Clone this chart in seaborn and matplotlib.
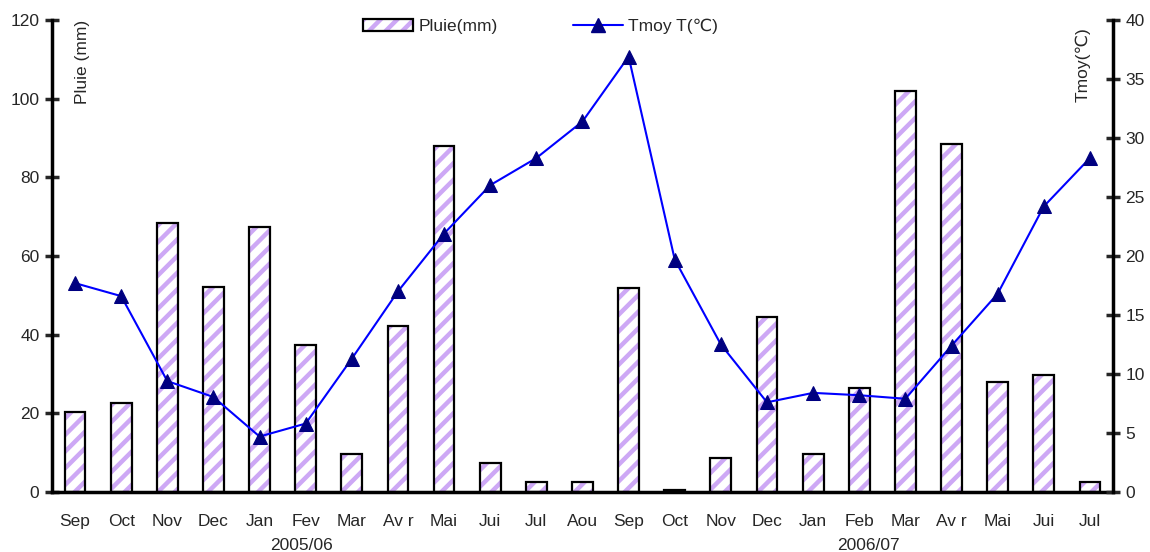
import numpy as np
import pandas as pd
import matplotlib
matplotlib.use("Agg")
import matplotlib.pyplot as plt
import seaborn as sns
from matplotlib.lines import Line2D
from matplotlib.patches import Patch

months = ["Sep", "Oct", "Nov", "Dec", "Jan", "Fev", "Mar", "Av r", "Mai", "Jui", "Jul", "Aou",
          "Sep", "Oct", "Nov", "Dec", "Jan", "Feb", "Mar", "Av r", "Mai", "Jui", "Jul"]
pluie = [20.3, 22.6, 68.4, 52.1, 67.4, 37.4, 9.7, 42.2, 88.0, 7.4, 2.5, 2.5,
         51.9, 0.5, 8.6, 44.5, 9.7, 26.4, 102.0, 88.5, 28.0, 29.7, 2.5]
tmoy = [17.7, 16.6, 9.4, 8.05, 4.7, 5.8, 11.3, 17.0, 21.9, 26.0, 28.3, 31.4,
        36.9, 19.7, 12.5, 7.6, 8.4, 8.2, 7.9, 12.4, 16.8, 24.2, 28.3]
seasons = ["2005/06", "2006/07"]
season_pos = [4.9, 17.2]

df = pd.DataFrame({"idx": np.arange(len(months)), "pluie": pluie, "tmoy": tmoy})

sns.set_style("white")
plt.rcParams["font.family"] = ["Liberation Sans", "DejaVu Sans"]
plt.rcParams["hatch.linewidth"] = 3.2

hatch_col = "#CDA8F5"
fs = 12.5

fig = plt.figure(figsize=(11.5, 5.52), dpi=100)
ax = fig.add_axes([0.0452, 0.1087, 0.9226, 0.8551])

sns.barplot(data=df, x="idx", y="pluie", color="white", width=0.45, ax=ax,
            native_scale=True, saturation=1)
for p in ax.patches:
    p.set_hatch("//")
    p.set_edgecolor(hatch_col)
    p.set_linewidth(0)
# black outlines on top
ax.bar(df["idx"], df["pluie"], width=0.45, fill=False, edgecolor="black", linewidth=1.6, zorder=3)

ax.set_xlim(-0.5, len(months) - 0.5)
ax.set_ylim(0, 120)
ax.set_yticks(np.arange(0, 121, 20))
ax.set_xticks(np.arange(len(months)))
ax.set_xticklabels(months, fontsize=fs)
ax.set_xticks(np.arange(-0.5, len(months), 1), minor=True)
ax.tick_params(axis="x", which="major", length=0, pad=16)
ax.tick_params(axis="x", which="minor", direction="inout", length=10, width=2.5)
ax.tick_params(axis="y", direction="inout", length=10, width=2.5, labelsize=fs, pad=4)
ax.set_xlabel("")
ax.set_ylabel("")
for s in ["left", "bottom"]:
    ax.spines[s].set_linewidth(2.5)
    ax.spines[s].set_color("black")
ax.spines["top"].set_visible(False)
ax.spines["right"].set_visible(False)

ax2 = ax.twinx()
sns.lineplot(data=df, x="idx", y="tmoy", ax=ax2, color="#0000FF", linewidth=1.5,
             marker="^", markersize=10, markerfacecolor="#000080", markeredgecolor="#000080")
ax2.set_ylim(0, 40)
ax2.set_yticks(np.arange(0, 41, 5))
ax2.tick_params(axis="y", direction="inout", length=10, width=2.5, labelsize=fs, pad=4)
ax2.set_ylabel("")
ax2.spines["right"].set_linewidth(2.5)
ax2.spines["right"].set_color("black")
for s in ["top", "left", "bottom"]:
    ax2.spines[s].set_visible(False)

ax.text(0.029, 1.0, "Pluie (mm)", transform=ax.transAxes, rotation=90,
        ha="center", va="top", fontsize=fs)
ax.text(0.972, 0.985, "Tmoy(\u2103)", transform=ax.transAxes, rotation=90,
        ha="center", va="top", fontsize=fs)

for lab, pos in zip(seasons, season_pos):
    ax.text(pos, -0.113, lab, transform=ax.get_xaxis_transform(), ha="center",
            va="center", fontsize=fs)

bar_handle = (Patch(facecolor="white", edgecolor=hatch_col, hatch="//", linewidth=0),
              Patch(fill=False, edgecolor="black", linewidth=1.6))
line_handle = Line2D([], [], color="#0000FF", linewidth=1.5, marker="^", markersize=10,
                     markerfacecolor="#000080", markeredgecolor="#000080")
fig.legend([bar_handle, line_handle], ["Pluie(mm)", "Tmoy T(\u2103)"], loc="center", ncol=2,
           bbox_to_anchor=(0.47, 0.952), frameon=False, fontsize=fs,
           columnspacing=4.3, handlelength=2.9, handletextpad=0.3)

fig.savefig("out.png", dpi=100)
